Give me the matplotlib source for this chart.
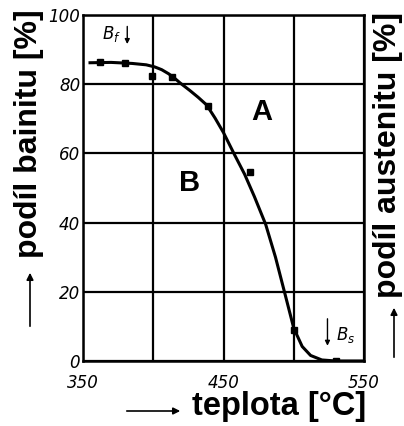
import matplotlib
matplotlib.use("Agg")
import matplotlib.pyplot as plt
from matplotlib import font_manager
import numpy as np

# data
pts_x = [362, 380, 399, 413, 439, 469, 500, 530]
pts_y = [86.3, 86.2, 82.5, 82.0, 73.7, 54.5, 9.0, 0.0]
curve_x = [355, 370, 385, 395, 401, 406, 411, 415, 419, 426, 432, 438, 444, 450, 458, 465, 472, 480, 487, 494, 500, 506, 512, 520, 530, 540, 550]
curve_y = [86.2, 86.3, 86.0, 85.6, 85.0, 84.2, 83.0, 81.8, 80.4, 78.2, 76.2, 74.0, 70.2, 66.0, 59.5, 54.0, 47.5, 39.5, 30.0, 19.0, 9.5, 4.2, 1.6, 0.3, 0, 0, 0]
xticks = [350, 450, 550]
yticks = [0, 20, 40, 60, 80, 100]

names = {f.name for f in font_manager.fontManager.ttflist}
label_family = 'Liberation Sans Narrow' if 'Liberation Sans Narrow' in names else 'Liberation Sans'

fig = plt.figure(figsize=(4.04, 4.26), dpi=100)
ax = fig.add_axes([83/404, 1-361/426, (364-83)/404, (361-15)/426])
ax.plot(curve_x, curve_y, color='black', lw=2.2, zorder=3, solid_joinstyle='round')
ax.plot(pts_x, pts_y, 's', color='black', ms=5, zorder=4)
ax.set_xlim(350, 550)
ax.set_ylim(0, 100)
ax.set_xticks(xticks)
ax.set_xticks([400, 500], minor=True)
ax.set_yticks(yticks)
ax.grid(True, which='both', color='black', lw=1.6)
ax.tick_params(which='both', length=0, labelsize=12)
for lab in ax.get_xticklabels() + ax.get_yticklabels():
    lab.set_fontstyle('italic')
ax.tick_params(axis='x', pad=9)
ax.tick_params(axis='y', pad=2)
for s in ax.spines.values():
    s.set_linewidth(1.8)
    s.set_color('black')

ax.text(477, 72, 'A', fontsize=21, fontweight='bold', family='Liberation Sans',
        ha='center', va='center')
ax.text(426, 51.4, 'B', fontsize=21, fontweight='bold', family='Liberation Sans',
        ha='center', va='center')
ax.text(370, 94.5, r'$B_f$', fontsize=12, ha='center', va='center')
ax.annotate('', xy=(381.5, 90.8), xytext=(381.5, 97.5),
            arrowprops=dict(arrowstyle='-|>', color='black', lw=1, mutation_scale=7))
ax.text(537, 7.5, r'$B_s$', fontsize=12, ha='center', va='center')
ax.annotate('', xy=(524, 3.6), xytext=(524, 13),
            arrowprops=dict(arrowstyle='-|>', color='black', lw=1, mutation_scale=7))

lab_kw = dict(fontweight='bold', family=label_family, ha='center', va='center')
fig.text(29/404, 1-134/426, 'podíl bainitu [%]', rotation=90, fontsize=23, **lab_kw)
fig.text(388/404, 1-155/426, 'podíl austenitu [%]', rotation=90, fontsize=23, **lab_kw)
fig.text(279/404, 1-407/426, 'teplota [°C]', fontsize=23.5, **lab_kw)
fig.patches.append(matplotlib.patches.FancyArrowPatch(
    (30/404, 1-329/426), (30/404, 1-270/426), transform=fig.transFigure,
    arrowstyle='-|>', mutation_scale=10, color='black', lw=1.2))
fig.patches.append(matplotlib.patches.FancyArrowPatch(
    (394/404, 1-360/426), (394/404, 1-305/426), transform=fig.transFigure,
    arrowstyle='-|>', mutation_scale=10, color='black', lw=1.2))
fig.patches.append(matplotlib.patches.FancyArrowPatch(
    (124/404, 1-411/426), (183/404, 1-411/426), transform=fig.transFigure,
    arrowstyle='-|>', mutation_scale=10, color='black', lw=1.2))

fig.savefig('out.png', dpi=100)
